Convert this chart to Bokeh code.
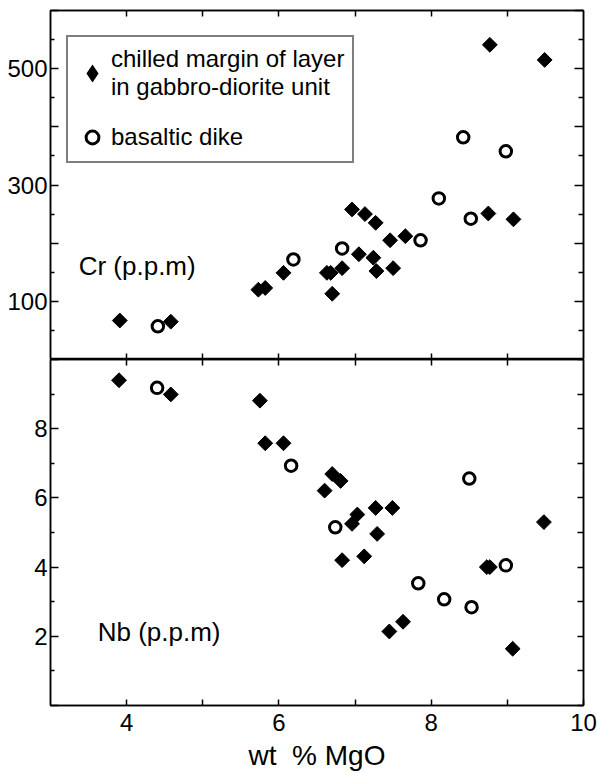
import numpy as np
from bokeh.plotting import figure
from bokeh.layouts import column
from bokeh.models import (Range1d, LinearAxis, FixedTicker, Legend, LegendItem,
                          Label, CustomJSTickFormatter)
from bokeh.embed import file_html
from bokeh.resources import INLINE

# ---------------- data ----------------
# Cr (ppm) vs wt% MgO
cr_layer_mgo = [3.91, 4.58, 5.73, 5.82, 6.06, 6.63, 6.68, 6.70, 6.83, 6.96, 7.05,
                7.13, 7.24, 7.27, 7.28, 7.46, 7.50, 7.66, 8.75, 8.77, 9.08, 9.49]
cr_layer = [67, 65, 120, 123, 149, 149, 149, 113, 157, 258, 181,
            250, 175, 235, 152, 205, 157, 212, 251, 541, 241, 515]
cr_dike_mgo = [4.41, 6.19, 6.83, 7.86, 8.10, 8.42, 8.52, 8.98]
cr_dike = [57, 172, 191, 205, 277, 382, 242, 358]

# Nb (ppm) vs wt% MgO
nb_layer_mgo = [3.90, 4.58, 5.75, 5.82, 6.06, 6.60, 6.70, 6.81, 6.83, 6.96, 7.03,
                7.12, 7.27, 7.29, 7.49, 7.45, 7.63, 8.73, 8.77, 9.07, 9.48]
nb_layer = [9.40, 8.99, 8.81, 7.58, 7.58, 6.21, 6.69, 6.49, 4.20, 5.25, 5.52,
            4.31, 5.71, 4.96, 5.71, 2.14, 2.42, 4.00, 4.00, 1.64, 5.30]
nb_dike_mgo = [4.40, 6.16, 6.74, 7.83, 8.17, 8.50, 8.53, 8.98]
nb_dike = [9.18, 6.93, 5.15, 3.53, 3.07, 6.56, 2.84, 4.05]

# axis ticks
x_ticks_labeled = [4, 6, 8, 10]
x_ticks_minor = [5, 7, 9]
x_ticks_all = [4, 5, 6, 7, 8, 9]
cr_major = [0, 100, 200, 300, 400, 500, 600]
cr_minor = [50, 150, 250, 350, 450, 550]
cr_labels = {0: "", 200: "", 400: "", 600: ""}
nb_major = [0, 2, 4, 6, 8, 10]
nb_minor = [1, 3, 5, 7, 9]
nb_labels = {0: "", 10: ""}

labels_text = ["chilled margin of layer\nin gabbro-diorite unit", "basaltic dike"]

FONT = "Liberation Sans"
LW = 1.5
blank = CustomJSTickFormatter(code="return ''")

xr = Range1d(3, 10)


def base(height, yr, top, bottom):
    p = figure(width=597, height=height, x_range=xr, y_range=yr,
               output_backend="svg", toolbar_location=None,
               x_axis_location=None, y_axis_location=None,
               min_border_left=50, min_border_right=14,
               min_border_top=top, min_border_bottom=bottom)
    p.grid.visible = False
    p.outline_line_color = "black"
    p.outline_line_width = LW
    p.background_fill_color = "white"
    p.border_fill_color = "white"
    return p


def axis(ticks, minor, tin, min_in, labels=True, overrides=None, size="24px", standoff=3):
    ax = LinearAxis(ticker=FixedTicker(ticks=ticks, minor_ticks=minor),
                    major_tick_in=tin, major_tick_out=0,
                    minor_tick_in=min_in, minor_tick_out=0,
                    axis_line_color="black", axis_line_width=LW,
                    major_tick_line_width=LW, minor_tick_line_width=LW,
                    major_tick_line_color="black", minor_tick_line_color="black")
    if labels:
        ax.major_label_text_font = FONT
        ax.major_label_text_font_size = size
        ax.major_label_text_color = "black"
        ax.major_label_standoff = standoff
        if overrides:
            ax.major_label_overrides = overrides
    else:
        ax.formatter = blank
        ax.major_label_standoff = 0
        ax.major_label_text_font_size = "0px"
    return ax


def diamonds(p, x, y):
    return p.scatter(x, y, marker="square", angle=np.pi / 4, size=10.5,
                     fill_color="black", line_color="black", line_width=1)


def dikes(p, x, y):
    return p.scatter(x, y, marker="circle", size=11.5, fill_color="white",
                     line_color="black", line_width=3)


# ---------------- top panel: Cr ----------------
p1 = base(359, Range1d(0, 600), 10, 0)
p1.add_layout(axis(cr_major, cr_minor, 8, 4, True, cr_labels), "left")
p1.add_layout(axis(cr_major, cr_minor, 9, 5, False), "right")
p1.add_layout(axis(x_ticks_all, [], 6, 0, False), "above")
p1.add_layout(axis(x_ticks_all, [], 6, 0, False), "below")

diamonds(p1, cr_layer_mgo, cr_layer)
r_dike = dikes(p1, cr_dike_mgo, cr_dike)
# legend swatch for the layer samples (legend keys are drawn unrotated,
# so this key-only renderer uses the diamond marker; it has no plotted point)
r_layer_key = p1.scatter(x=[np.nan], y=[np.nan], marker="diamond", size=12,
                         fill_color="black", line_color="black", line_width=3,
                         line_join="miter")

p1.add_layout(Label(x=3.37, y=160, text="Cr (p.p.m)", text_font=FONT,
                    text_font_size="26px", text_baseline="middle", text_color="black"))

legend = Legend(items=[LegendItem(label=labels_text[0], renderers=[r_layer_key]),
                       LegendItem(label=labels_text[1], renderers=[r_dike])],
                location=(16, 196), orientation="vertical",
                border_line_color="black", border_line_width=2,
                background_fill_color="white", background_fill_alpha=1,
                label_text_font=FONT, label_text_font_size="24px",
                label_text_color="black",
                glyph_width=32, glyph_height=32, label_standoff=3,
                padding=8, spacing=20, margin=0)
p1.add_layout(legend)

# ---------------- bottom panel: Nb ----------------
p2 = base(414, Range1d(0, 10), 0, 67)
p2.add_layout(axis(nb_major, nb_minor, 8, 4, True, nb_labels), "left")
p2.add_layout(axis(list(range(0, 11)), [], 6, 0, False), "right")
p2.add_layout(axis(x_ticks_all, [], 6, 0, False), "above")
bx = axis(x_ticks_labeled, x_ticks_minor, 6, 6, True, standoff=8)
bx.axis_label = "wt\u00a0 % MgO"
bx.axis_label_text_font = FONT
bx.axis_label_text_font_size = "28px"
bx.axis_label_text_font_style = "normal"
bx.axis_label_text_color = "black"
bx.axis_label_standoff = 6
p2.add_layout(bx, "below")

diamonds(p2, nb_layer_mgo, nb_layer)
dikes(p2, nb_dike_mgo, nb_dike)

p2.add_layout(Label(x=3.62, y=2.13, text="Nb (p.p.m)", text_font=FONT,
                    text_font_size="26px", text_baseline="middle", text_color="black"))

layout = column(p1, p2, spacing=0)
open("out.html", "w").write(file_html(layout, INLINE))
